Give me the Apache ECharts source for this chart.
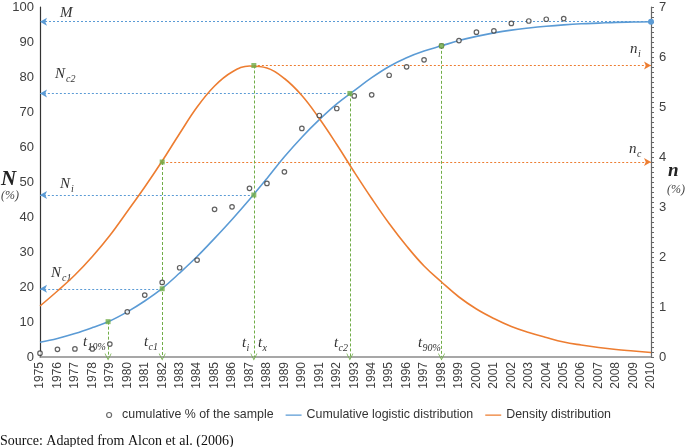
<!DOCTYPE html>
<html><head><meta charset="utf-8">
<script src="https://cdn.jsdelivr.net/npm/echarts@6/dist/echarts.min.js"></script>
<style>html,body{margin:0;padding:0;background:#fff}#c{width:685px;height:447px}</style>
</head><body><div id="c"></div>
<script>
// ---- data ----
const years = [1975,1976,1977,1978,1979,1980,1981,1982,1983,1984,1985,1986,1987,1988,1989,1990,1991,1992,1993,1994,1995,1996,1997,1998,1999,2000,2001,2002,2003,2004,2005,2006,2007,2008,2009,2010];
const sampleYears = [1975,1976,1977,1978,1979,1980,1981,1982,1983,1984,1985,1986,1987,1988,1989,1990,1991,1992,1993,1994,1995,1996,1997,1998,1999,2000,2001,2002,2003,2004,2005];
const sampleValues = [1.1,2.2,2.3,2.3,3.7,12.9,17.7,21.3,25.5,27.7,42.2,42.9,48.2,49.6,52.9,65.3,69.0,71.0,74.6,74.9,80.5,82.9,84.9,88.9,90.4,92.8,93.2,95.3,96.0,96.5,96.7];
const cumulativeValues = [4.2,5.3,6.7,8.4,10.3,12.9,16.0,19.6,24.0,28.7,33.9,39.3,45.0,51.0,57.2,62.8,67.8,72.3,76.1,79.8,83.0,85.5,87.4,88.9,90.4,91.6,92.6,93.4,94.0,94.5,94.9,95.2,95.4,95.6,95.7,95.8];
const densityValues = [1.02,1.32,1.64,2.01,2.43,2.91,3.40,3.92,4.47,5.00,5.42,5.70,5.82,5.78,5.57,5.23,4.77,4.25,3.70,3.17,2.67,2.22,1.82,1.50,1.20,0.96,0.77,0.61,0.49,0.39,0.30,0.24,0.19,0.15,0.12,0.09];
const leftTicks = {min:0, max:100, step:10};
const rightTicks = {min:0, max:7, step:1};
// key points of the annotation
const M = 95.8;
const tKeys = {t10:1978.9, tc1:1982, ti:1987.25, tc2:1992.75, t90:1998};
const NKeys = {t10:10.1, tc1:19.5, ti:46.3, tc2:75.3, t90:88.9};
const nKeys = {nc:3.9, ni:5.83};

const BLUE='#5b9bd5', ORANGE='#ed7d31', GREEN='#70ad47';
const xMin = years[0], xMax = years[years.length-1];
const chevron = 'path://M0,10L5,0L10,10L9,10L5,2.5L1,10Z';
const lineIcon = 'path://M0,0H0.01V0.01H0ZM0,2H16V3.3H0ZM0,5H0.01V5.01H0Z';

function seg(a, b, color, endSym, startSym, dash){
  return [
    {coord:a, symbol:startSym||'none', symbolSize:[6,7]},
    {coord:b, symbol:endSym||'none', symbolSize:endSym===chevron?[7,7]:[6,7],
     lineStyle:{color:color, width:1, type:dash||[2,2]}}
  ];
}

const chart = echarts.init(document.getElementById('c'), null, {renderer:'canvas'});
const serif = '"Liberation Serif","Times New Roman",serif';
const sans = '"Liberation Sans",Arial,sans-serif';

function lab(x, y, main, sub, size){
  const els = [{type:'text', x:x, y:y, style:{text:main, font:'italic '+(size||15)+'px '+serif, fill:'#333', textVerticalAlign:'top'}}];
  if (sub) els.push({type:'text', x:x+(main==='N'?11:(main==='n'?8:4.5)), y:y+7, style:{text:sub, font:'italic 10px '+serif, fill:'#333', textVerticalAlign:'top'}});
  return els;
}

const graphics = [].concat(
  lab(60,6,'M'),
  lab(55,67,'N','c2'),
  lab(60,177,'N','i'),
  lab(51,266,'N','c1'),
  lab(83,335,'t','10%'),
  lab(144,335,'t','c1'),
  lab(242,336,'t','i'),
  lab(258,336,'t','x'),
  lab(334,336,'t','c2'),
  lab(418,336,'t','90%'),
  lab(630,42,'n','i'),
  lab(629,142,'n','c'),
  [
    {type:'text', x:1, y:169, style:{text:'N', font:'bold italic 21px '+serif, fill:'#222', textVerticalAlign:'top'}},
    {type:'text', x:1, y:190, style:{text:'(%)', font:'italic 12px '+serif, fill:'#444', textVerticalAlign:'top'}},
    {type:'text', x:668, y:162, style:{text:'n', font:'bold italic 19px '+serif, fill:'#222', textVerticalAlign:'top'}},
    {type:'text', x:667, y:184, style:{text:'(%)', font:'italic 12px '+serif, fill:'#444', textVerticalAlign:'top'}},
    {type:'text', x:0, y:434, style:{text:'Source: Adapted from Alcon et al. (2006)', font:'14px '+serif, fill:'#111', textVerticalAlign:'top'}}
  ]
);

const option = {
  animation:false,
  backgroundColor:'#fff',
  grid:{left:40, right:34, top:7, bottom:90},
  legend:{
    top:404, left:101, itemGap:12, itemWidth:16, itemHeight:5,
    textStyle:{fontFamily:sans, fontSize:12.4, color:'#333'},
    data:[
      {name:'cumulative % of the sample', icon:'circle', itemStyle:{color:'#fff', borderColor:'#444', borderWidth:1.2}},
      {name:'Cumulative logistic distribution', icon:lineIcon, itemStyle:{color:BLUE}},
      {name:'Density distribution', icon:lineIcon, itemStyle:{color:ORANGE}}
    ]
  },
  xAxis:{
    type:'value', min:xMin, max:xMax, interval:1,
    axisLine:{lineStyle:{color:'#8a8a8a', width:1.5}},
    axisTick:{show:false},
    splitLine:{show:false},
    axisLabel:{rotate:90, fontFamily:sans, fontSize:12, color:'#404040', margin:5, formatter:v=>String(v)}
  },
  yAxis:[
    {type:'value', min:leftTicks.min, max:leftTicks.max, interval:leftTicks.step,
     axisLine:{show:true, lineStyle:{color:'#333', width:1.2}},
     axisTick:{show:false}, splitLine:{show:false},
     axisLabel:{fontFamily:sans, fontSize:13, color:'#404040', margin:6}},
    {type:'value', min:rightTicks.min, max:rightTicks.max, interval:rightTicks.step, position:'right',
     axisLine:{show:true, lineStyle:{color:'#666', width:1.2}},
     axisTick:{show:true, length:3, lineStyle:{color:'#666'}},
     minorTick:{show:true, splitNumber:10, length:3, lineStyle:{color:'#666'}},
     splitLine:{show:false}, minorSplitLine:{show:false},
     axisLabel:{fontFamily:sans, fontSize:13, color:'#404040', margin:8}}
  ],
  graphic:graphics,
  series:[
    {name:'annot-left', type:'line', data:[], silent:true, z:1,
     markLine:{silent:true, label:{show:false}, animation:false, z:1,
       data:[
         seg([xMax,M],[xMin,M],BLUE,'arrow','circle'),
         seg([tKeys.tc2,NKeys.tc2],[xMin,NKeys.tc2],BLUE,'arrow'),
         seg([tKeys.ti,NKeys.ti],[xMin,NKeys.ti],BLUE,'arrow'),
         seg([tKeys.tc1,NKeys.tc1],[xMin,NKeys.tc1],BLUE,'arrow'),
         seg([tKeys.t10,NKeys.t10],[tKeys.t10,0],GREEN,chevron,null,[3,2]),
         seg([tKeys.tc2,NKeys.tc2],[tKeys.tc2,0],GREEN,chevron,null,[3,2]),
         seg([tKeys.t90,NKeys.t90],[tKeys.t90,0],GREEN,chevron,null,[3,2])
       ]}},
    {name:'annot-right', type:'line', yAxisIndex:1, data:[], silent:true, z:1,
     markLine:{silent:true, label:{show:false}, animation:false, z:1,
       data:[
         seg([tKeys.ti,nKeys.ni],[xMax,nKeys.ni],ORANGE,'arrow'),
         seg([tKeys.tc1,nKeys.nc],[xMax,nKeys.nc],ORANGE,'arrow'),
         seg([tKeys.ti,nKeys.ni],[tKeys.ti,0],GREEN,chevron,null,[3,2]),
         seg([tKeys.tc1,nKeys.nc],[tKeys.tc1,0],GREEN,chevron,null,[3,2])
       ]}},
    {name:'Cumulative logistic distribution', type:'line', smooth:0.4, symbol:'none', z:3,
     lineStyle:{color:BLUE, width:1.6}, itemStyle:{color:BLUE},
     data:years.map((y,i)=>[y,cumulativeValues[i]])},
    {name:'Density distribution', type:'line', yAxisIndex:1, smooth:0.4, symbol:'none', z:3,
     lineStyle:{color:ORANGE, width:1.6}, itemStyle:{color:ORANGE},
     data:years.map((y,i)=>[y,densityValues[i]])},
    {name:'cumulative % of the sample', type:'scatter', symbol:'circle', symbolSize:4.5, z:4,
     itemStyle:{color:'#fff', borderColor:'#3a3a3a', borderWidth:1.2},
     data:sampleYears.map((y,i)=>[y,sampleValues[i]])},
    {name:'keys-left', type:'scatter', symbol:'rect', symbolSize:5, z:5,
     itemStyle:{color:GREEN},
     data:['t10','tc1','ti','tc2','t90'].map(k=>[tKeys[k],NKeys[k]])},
    {name:'keys-right', type:'scatter', yAxisIndex:1, symbol:'rect', symbolSize:5, z:5,
     itemStyle:{color:GREEN},
     data:[[tKeys.tc1,nKeys.nc],[tKeys.ti,nKeys.ni]]}
  ]
};
chart.setOption(option);
</script></body></html>
